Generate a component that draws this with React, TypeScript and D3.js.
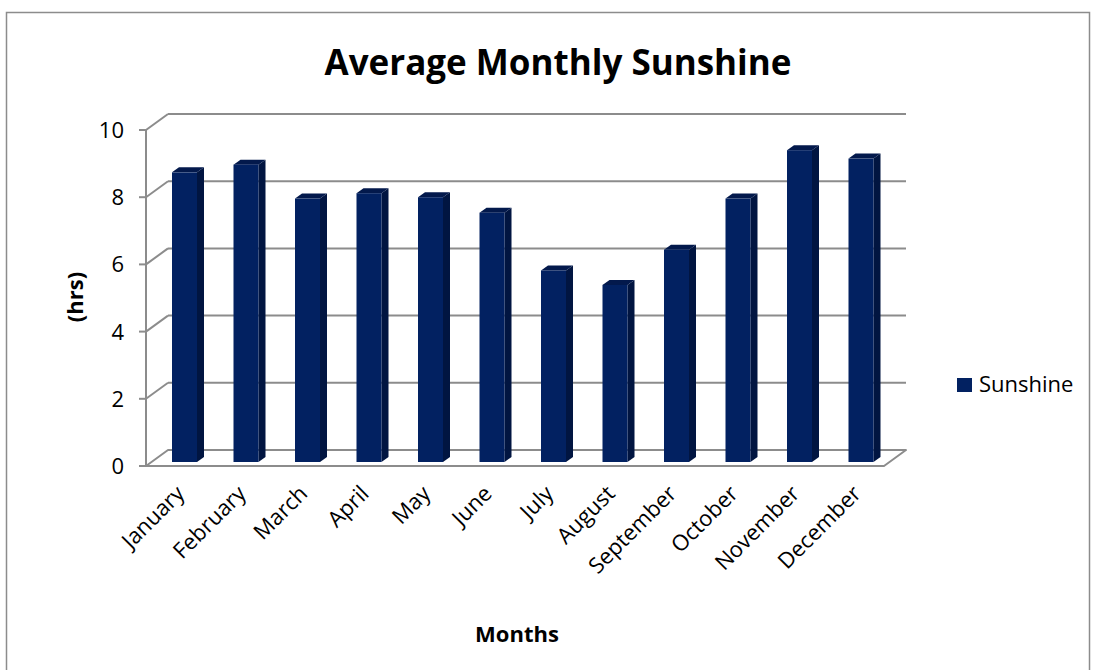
import React from "react";
import * as d3 from "d3";

const months = ["January","February","March","April","May","June","July","August","September","October","November","December"];
const sunshine = [8.62, 8.85, 7.84, 8.0, 7.88, 7.42, 5.7, 5.27, 6.32, 7.84, 9.28, 9.03];
const yTicks = [0, 2, 4, 6, 8, 10];
const seriesName = "Sunshine";
const title = "Average Monthly Sunshine";
const xTitle = "Months";
const yTitle = "(hrs)";

const FONT = "'Open Sans', 'Noto Sans', sans-serif";

export default function App() {
  const W = 1096, H = 670;
  const left = 146, right = 884, top = 130, bottom = 466;
  const depth = { dx: 22, dy: -16 };
  const x = d3.scaleBand<string>().domain(months).range([left, right]).paddingInner(0).paddingOuter(0);
  const y = d3.scaleLinear().domain([0, 10]).range([bottom, top]);
  const bw = x.bandwidth();
  const barW = 25;
  const off = { dx: 7.75, dy: -4 };
  const bd = { dx: 7, dy: -5 };
  const grid = "#8c8c8c";

  return (
    <svg width={W} height={H} style={{ position: "absolute", left: 0, top: 0, background: "#fff" }}>
      <rect x={6.5} y={12.5} width={1083} height={680} fill="#fff" stroke="#8c8c8c" strokeWidth={1.5} />
      <text x={558} y={75} textAnchor="middle" fontFamily={FONT} fontWeight="bold" fontSize={35} fill="#000">{title}</text>

      {/* gridlines: left wall diagonals + back wall horizontals */}
      {yTicks.map(t => (
        <g key={t}>
          {t > 0 && <line x1={left} y1={y(t)} x2={left + depth.dx} y2={y(t) + depth.dy} stroke={grid} strokeWidth={2} />}
          {t > 0 && <line x1={left + depth.dx} y1={y(t) + depth.dy} x2={right + depth.dx} y2={y(t) + depth.dy} stroke={grid} strokeWidth={2} />}
          <line x1={left - 7} y1={y(t)} x2={left} y2={y(t)} stroke={grid} strokeWidth={2} />
          <text x={124} y={y(t)} dy="0.36em" textAnchor="end" fontFamily={FONT} fontSize={22} fill="#000">{t}</text>
        </g>
      ))}
      {/* left wall front edge */}
      <line x1={left} y1={y(10)} x2={left} y2={bottom} stroke={grid} strokeWidth={2} />
      {/* floor */}
      <path
        d={`M${left},${bottom} L${right},${bottom} L${right + depth.dx},${bottom + depth.dy} L${left + depth.dx},${bottom + depth.dy} Z`}
        fill="none" stroke={grid} strokeWidth={2} strokeLinejoin="round"
      />

      {/* bars */}
      {months.map((m, i) => {
        const c = (x(m) as number) + bw / 2 + off.dx;
        const x0 = c - barW / 2, x1 = c + barW / 2;
        const yb = y(0) + off.dy, yt = y(sunshine[i]) + off.dy;
        return (
          <g key={m}>
            <path d={`M${x1},${yt} L${x1 + bd.dx},${yt + bd.dy} L${x1 + bd.dx},${yb + bd.dy} L${x1},${yb} Z`} fill="#011541" />
            <path d={`M${x0},${yt} L${x0 + bd.dx},${yt + bd.dy} L${x1 + bd.dx},${yt + bd.dy} L${x1},${yt} Z`} fill="#03194c" />
            <rect x={x0} y={yt} width={barW} height={yb - yt} fill="#022161" />
          </g>
        );
      })}

      {/* x labels */}
      {months.map(m => {
        const cx = (x(m) as number) + bw / 2 + 9;
        const cy = 495;
        return (
          <text key={m} x={cx} y={cy} transform={`rotate(-45 ${cx} ${cy})`} textAnchor="end" fontFamily={FONT} fontSize={22} fill="#000">{m}</text>
        );
      })}

      <text x={517} y={642} textAnchor="middle" fontFamily={FONT} fontWeight="bold" fontSize={22} fill="#000">{xTitle}</text>
      <text transform={`translate(83,297) rotate(-90)`} textAnchor="middle" fontFamily={FONT} fontWeight="bold" fontSize={22} fill="#000">{yTitle}</text>

      {/* legend */}
      <rect x={957} y={378} width={15} height={14} fill="#022161" />
      <text x={979} y={392} fontFamily={FONT} fontSize={22} fill="#000">{seriesName}</text>
    </svg>
  );
}
